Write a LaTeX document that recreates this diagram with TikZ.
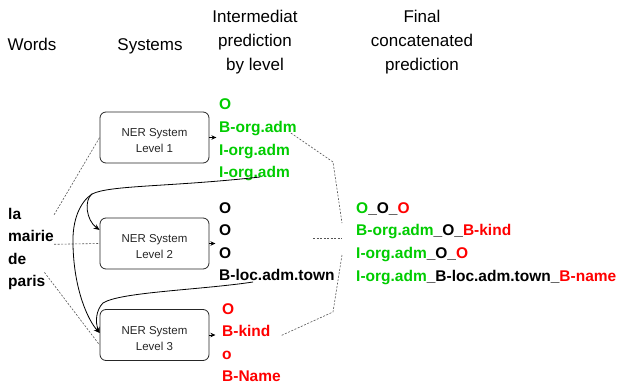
\documentclass[tikz,border=0pt]{standalone}
\usepackage{fontspec}
\setmainfont{Liberation Sans}
\usetikzlibrary{arrows.meta,calc}
\definecolor{ggreen}{HTML}{00CC00}
\definecolor{rred}{HTML}{FF0000}
\definecolor{dgray}{HTML}{555555}
\begin{document}
\begin{tikzpicture}[x=1pt,y=-1pt,
  hdr/.style={font=\fontsize{17}{20}\selectfont, inner sep=0pt, anchor=base},
  lbl/.style={font=\bfseries\fontsize{15.5}{18}\selectfont, inner sep=0pt, anchor=base west},
  sysbox/.style={draw=black!85, rounded corners=6pt, minimum width=109pt, minimum height=51pt,
                 align=center, font=\fontsize{11.5}{16}\selectfont, inner sep=0pt, line width=0.8pt,
                 text=black!85, text height=30pt, text depth=0pt},
  dotl/.style={draw=dgray, dash pattern=on 2pt off 1.5pt, line width=0.6pt},
  arr/.style={-{Stealth[length=5pt,width=4.5pt]}, line width=0.8pt},
  curv/.style={-{Stealth[length=6pt,width=5pt]}, line width=0.8pt}]
\useasboundingbox (0,0) rectangle (620,385);

% headers
\node[hdr] (hW) at (32,51) {Words};
\node[hdr] (hS) at (150,51) {Systems};
\node[hdr] (hI1) at (255,22.7) {Intermediat};
\node[hdr] (hI2) at (255,46.7) {prediction};
\node[hdr] (hI3) at (255,70.7) {by level};
\node[hdr] (hF1) at (422,22.7) {Final};
\node[hdr] (hF2) at (422,46.7) {concatenated};
\node[hdr] (hF3) at (422,70.7) {prediction};

% words
\node[lbl] (w1) at (8,219.5) {la};
\node[lbl] (w2) at (8,241.8) {mairie};
\node[lbl] (w3) at (8,264.1) {de};
\node[lbl] (w4) at (8,286.4) {paris};

% systems
\node[sysbox] (s1) at (154.5,137.5) {NER System\\Level 1};
\node[sysbox] (s2) at (154.5,243.5) {NER System\\Level 2};
\node[sysbox] (s3) at (154.5,335) {NER System\\Level 3};

% level 1 predictions
\node[lbl, text=ggreen] (l11) at (219,110) {O};
\node[lbl, text=ggreen] (l12) at (219,132.5) {B-org.adm};
\node[lbl, text=ggreen] (l13) at (219,155) {I-org.adm};
\node[lbl, text=ggreen] (l14) at (219,177.5) {I-org.adm};
% level 2 predictions
\node[lbl] (l21) at (219,213) {O};
\node[lbl] (l22) at (219,235.5) {O};
\node[lbl] (l23) at (219,258) {O};
\node[lbl] (l24) at (219,280.5) {B-loc.adm.town};
% level 3 predictions
\node[lbl, text=rred] (l31) at (222,314.5) {O};
\node[lbl, text=rred] (l32) at (222,336.8) {B-kind};
\node[lbl, text=rred] (l33) at (222,359) {o};
\node[lbl, text=rred] (l34) at (222,381.3) {B-Name};

% final predictions
\node[lbl] (f1) at (356,213) {\textcolor{ggreen}{O}\_O\_\textcolor{rred}{O}};
\node[lbl] (f2) at (356,235.7) {\textcolor{ggreen}{B-org.adm}\_O\_\textcolor{rred}{B-kind}};
\node[lbl] (f3) at (356,258.3) {\textcolor{ggreen}{I-org.adm}\_O\_\textcolor{rred}{O}};
\node[lbl] (f4) at (356,281) {\textcolor{ggreen}{I-org.adm}\_B-loc.adm.town\_\textcolor{rred}{B-name}};

% small arrows
\draw[arr] (s1.east) -- ([xshift=7pt]s1.east);
\draw[arr] (s2.east) -- ([xshift=6pt]s2.east);
\draw[arr] (s3.east) -- ([xshift=6pt]s3.east);

% dashed links from words
\coordinate (d1) at ($(w2.base east)+(0,-27)$);
\coordinate (d2) at ($(w2.base east)+(0,2.5)$);
\coordinate (d3) at ($(w4.base east)+(-1,-14)$);
\draw[dotl] (d1) -- (s1.west);
\draw[dotl] (d2) -- (s2.west);
\draw[dotl] (d3) -- ([yshift=-10pt]s3.west);

% dashed brackets to final
\coordinate (b1) at ($(l12.base east)+(-6,0.5)$);
\coordinate (b1m) at (333,162);
\coordinate (b1e) at (342,223);
\coordinate (b2) at (313,238);
\coordinate (b2e) at (342,238);
\coordinate (b3) at (342,255);
\coordinate (b3m) at (333,312);
\coordinate (b3e) at ($(l32.base east)+(10,-1)$);
\draw[dotl] (b1) -- (b1m) -- (b1e);
\draw[dotl] (b2) -- (b2e);
\draw[dotl] (b3) -- (b3m) -- (b3e);

% curved arrows
\coordinate (cs) at ($(l14.base west)+(41,-0.5)$);
\coordinate (cj) at (92,194);
\coordinate (ct) at ($(l24.base west)+(34,1.5)$);
\draw[line width=0.8pt] (cs) .. controls (170,187) and (110,185) .. (cj);
\draw[curv] (cj) .. controls (84,200) and (86,220) .. ([yshift=13.5pt]s2.west);
\draw[curv] (cj) .. controls (80,202) and (72,220) .. (73,245) .. controls (74,290) and (88,320) .. ([yshift=2pt]s3.west);
\draw[curv] (ct) .. controls (200,290) and (120,292) .. (103,303) .. controls (96,310) and (95,322) .. ([yshift=2pt]s3.west);
\end{tikzpicture}
\end{document}
